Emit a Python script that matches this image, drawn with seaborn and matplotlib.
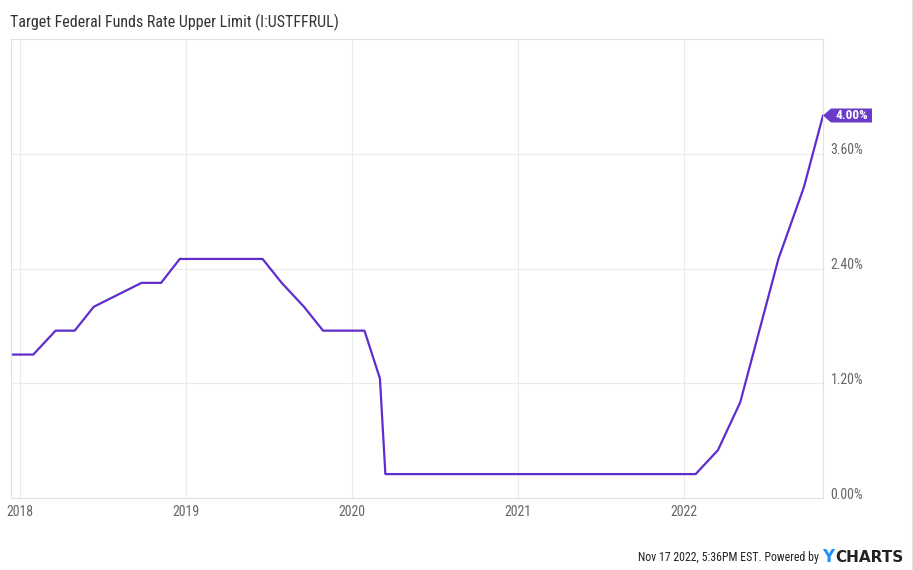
import pandas as pd
import numpy as np
import matplotlib
matplotlib.use("Agg")
import matplotlib.pyplot as plt
import matplotlib.dates as mdates
import matplotlib.transforms as mtransforms
from matplotlib.patches import Polygon
from matplotlib.lines import Line2D
import seaborn as sns

# ==========================================
# Data (rate at each FOMC meeting date, %)
# ==========================================
meeting_dates = [
    "2017-12-13", "2018-01-31", "2018-03-21", "2018-05-02", "2018-06-13",
    "2018-09-26", "2018-11-08", "2018-12-19", "2019-01-30", "2019-03-20",
    "2019-05-01", "2019-06-19", "2019-07-31", "2019-09-18", "2019-10-30",
    "2019-12-11", "2020-01-29", "2020-03-03", "2020-03-15", "2022-01-26",
    "2022-03-16", "2022-05-04", "2022-06-15", "2022-07-27", "2022-09-21",
    "2022-11-02",
]
upper_limit = [
    1.50, 1.50, 1.75, 1.75, 2.00,
    2.25, 2.25, 2.50, 2.50, 2.50,
    2.50, 2.50, 2.25, 2.00, 1.75,
    1.75, 1.75, 1.25, 0.25, 0.25,
    0.50, 1.00, 1.75, 2.50, 3.25,
    4.00,
]
y_ticks = [0.0, 1.2, 2.4, 3.6]
title = "Target Federal Funds Rate Upper Limit (I:USTFFRUL)"
footer = "Nov 17 2022, 5:36PM EST. Powered by"

df = pd.DataFrame({"date": pd.to_datetime(meeting_dates), "rate": upper_limit})

# ==========================================
# Style
# ==========================================
sns.set_theme(style="white")
FONTS = ["Roboto Condensed", "Liberation Sans Narrow", "DejaVu Sans Condensed", "Roboto", "DejaVu Sans"]
plt.rcParams["font.family"] = FONTS

LINE_COLOR = "#5f2dcd"
BOX_COLOR = "#6a3bc9"
GRID_COLOR = "#ebebeb"
TICK_COLOR = "#666666"

W, H, DPI = 913, 570, 100
fig = plt.figure(figsize=(W / DPI, H / DPI), dpi=DPI)
ax = fig.add_axes([11 / W, 1 - 498 / H, (823 - 11) / W, (498 - 39) / H])

sns.lineplot(data=df, x="date", y="rate", color=LINE_COLOR, linewidth=1.6, ax=ax)

ax.set_xlim(df["date"].iloc[0], df["date"].iloc[-1])
ax.set_ylim(0, 4.80)
ax.set_xlabel("")
ax.set_ylabel("")

ax.xaxis.set_major_locator(mdates.YearLocator())
ax.xaxis.set_major_formatter(mdates.DateFormatter("%Y"))
ax.set_yticks(y_ticks)
ax.set_yticklabels([f"{v:.2f}%" for v in y_ticks])
ax.yaxis.tick_right()

ax.tick_params(axis="x", length=0, pad=5, labelsize=10, labelcolor=TICK_COLOR)
ax.tick_params(axis="y", length=0, pad=5.5, labelsize=10, labelcolor=TICK_COLOR)
for lab in ax.get_yticklabels():
    lab.set_transform(lab.get_transform() + mtransforms.ScaledTranslation(0, 3.5 / 72, fig.dpi_scale_trans))
# keep the first year label inside the plot like the original
first = ax.get_xticklabels()[0]
first.set_transform(first.get_transform() + mtransforms.ScaledTranslation(4.5 / 72, 0, fig.dpi_scale_trans))

ax.grid(True, color=GRID_COLOR, linewidth=0.8)
for side in ["left", "right", "top", "bottom"]:
    ax.spines[side].set_visible(True)
    ax.spines[side].set_color("#e2e2e2")
    ax.spines[side].set_linewidth(0.8)

# last value tag (arrow shaped box)
fig.canvas.draw()
px, py = ax.transData.transform((mdates.date2num(df["date"].iloc[-1]), df["rate"].iloc[-1]))
tag = Polygon([(0, 0), (8, 7), (49, 7), (49, -7), (8, -7)], closed=True,
              facecolor=BOX_COLOR, edgecolor="none",
              transform=mtransforms.Affine2D().translate(px, py), clip_on=False)
fig.add_artist(tag)
fig.text((px + 29) / W, py / H, f"{df['rate'].iloc[-1]:.2f}%", color="white",
         fontsize=9.5, fontweight="bold", ha="center", va="center")

# title and footer
fig.text(10 / W, 1 - 22 / H, title, fontsize=11.5, color="#333333", ha="left", va="center")
fig.text(819 / W, 1 - 557 / H, footer, fontsize=8.6, color="#222222", ha="right", va="center")
renderer = fig.canvas.get_renderer()
logo_y = fig.text(822 / W, 1 - 557 / H, "Y", fontsize=12, fontweight="bold",
                  color="#1f8fff", ha="left", va="center", family=["DejaVu Sans"])
bb = logo_y.get_window_extent(renderer)
fig.text(bb.x1 / W + 1 / W, 1 - 557 / H, "CHARTS", fontsize=11, fontweight="bold",
         color="#222222", ha="left", va="center", family=["DejaVu Sans"])

fig.add_artist(Line2D([911.5 / W, 911.5 / W], [0, 1], color="#e6e6e6", linewidth=0.8))

fig.savefig("out.png", dpi=DPI)
plt.close(fig)
